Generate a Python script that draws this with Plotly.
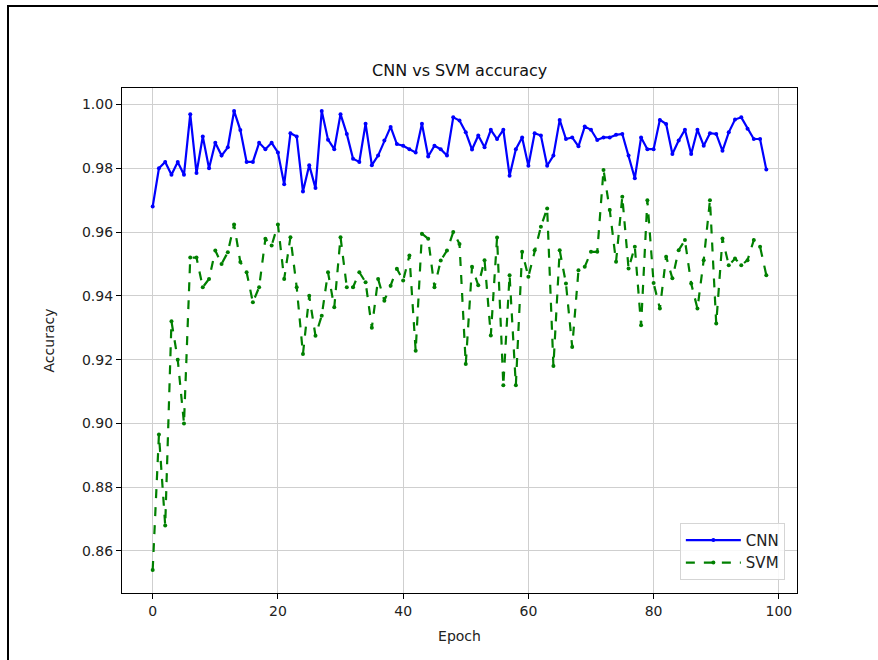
import plotly.graph_objects as go

epochs = list(range(99))

cnn_acc = [
    0.968, 0.980, 0.982, 0.978, 0.982, 0.978, 0.997, 0.9785, 0.990, 0.980,
    0.988, 0.984, 0.9866, 0.998, 0.992, 0.982, 0.982, 0.988, 0.986, 0.988,
    0.985, 0.975, 0.991, 0.990, 0.9727, 0.981, 0.9738, 0.998, 0.989, 0.986,
    0.997, 0.9908, 0.983, 0.982, 0.994, 0.981, 0.984, 0.9887, 0.993, 0.9876,
    0.9871, 0.986, 0.985, 0.994, 0.9837, 0.9871, 0.986, 0.984, 0.996, 0.995,
    0.9913, 0.9859, 0.9903, 0.9866, 0.9921, 0.9892, 0.9921, 0.9777, 0.986, 0.9897,
    0.9808, 0.991, 0.9903, 0.9808, 0.984, 0.9952, 0.9892, 0.9897, 0.9869, 0.9931,
    0.9921, 0.9889, 0.9897, 0.9897, 0.9905, 0.9908, 0.984, 0.9769, 0.9897, 0.986,
    0.986, 0.9952, 0.9939, 0.9845, 0.9887, 0.9921, 0.9845, 0.9921, 0.9871, 0.991,
    0.9908, 0.9855, 0.9913, 0.9953, 0.996, 0.9924, 0.9892, 0.9892, 0.9796,
]

svm_acc = [
    0.854, 0.8965, 0.868, 0.932, 0.920, 0.900, 0.952, 0.952, 0.9427, 0.9453,
    0.9542, 0.950, 0.9537, 0.9624, 0.9506, 0.9474, 0.938, 0.9427, 0.9579, 0.9558,
    0.9624, 0.9453, 0.9584, 0.9427, 0.9218, 0.940, 0.9275, 0.9338, 0.9474, 0.9364,
    0.9584, 0.9427, 0.9427, 0.9474, 0.9443, 0.930, 0.9453, 0.9385, 0.9432, 0.9485,
    0.9448, 0.9527, 0.9228, 0.9595, 0.9579, 0.9427, 0.9511, 0.9542, 0.960, 0.9563,
    0.9186, 0.9491, 0.9433, 0.9512, 0.9276, 0.9583, 0.912, 0.9465, 0.912, 0.9538,
    0.946, 0.9543, 0.9617, 0.9674, 0.918, 0.9543, 0.9439, 0.924, 0.948, 0.9491,
    0.9538, 0.9538, 0.9795, 0.9669, 0.9507, 0.9711, 0.9486, 0.9554, 0.9308, 0.970,
    0.944, 0.936, 0.9523, 0.9455, 0.9543, 0.9575, 0.9439, 0.936, 0.9512, 0.970,
    0.9313, 0.958, 0.9496, 0.9517, 0.9496, 0.9512, 0.9575, 0.9554, 0.9465,
]

x_ticks = [0, 20, 40, 60, 80, 100]
y_ticks = [0.86, 0.88, 0.90, 0.92, 0.94, 0.96, 0.98, 1.00]

FONT = "DejaVu Sans"

fig = go.Figure()
fig.add_trace(go.Scatter(
    x=epochs, y=cnn_acc, name="CNN", mode="lines+markers",
    line=dict(color="#0000ff", width=2.2),
    marker=dict(color="#0000ff", size=4),
))
fig.add_trace(go.Scatter(
    x=epochs, y=svm_acc, name="SVM", mode="lines+markers",
    line=dict(color="#008000", width=2.2, dash="dash"),
    marker=dict(color="#008000", size=4),
))

axis_common = dict(
    showline=True, linecolor="black", linewidth=1.2, mirror=True,
    ticks="outside", ticklen=5, tickcolor="black", tickwidth=1,
    showgrid=True, gridcolor="#cfcfcf", gridwidth=1, zeroline=False,
    tickfont=dict(family=FONT, size=14, color="#222"),
)

fig.update_layout(
    width=878, height=660,
    margin=dict(l=122, r=81, t=88, b=67),
    paper_bgcolor="white", plot_bgcolor="white",
    title=dict(text="CNN vs SVM accuracy", x=0.5235, xanchor="center",
               y=0.893, yanchor="middle",
               font=dict(family=FONT, size=16, color="#111")),
    xaxis=dict(range=[-4.9, 102.9], tickvals=x_ticks,
               title=dict(text="Epoch", font=dict(family=FONT, size=14, color="#222"), standoff=13),
               **axis_common),
    yaxis=dict(range=[0.8468, 1.0052], tickvals=y_ticks, tickformat=".2f",
               title=dict(text="Accuracy", font=dict(family=FONT, size=14, color="#222"), standoff=24),
               **axis_common),
    legend=dict(x=0.982, y=0.026, xanchor="right", yanchor="bottom",
                bgcolor="rgba(255,255,255,0.85)", bordercolor="#d5d5d5", borderwidth=1,
                font=dict(family=FONT, size=15, color="#222"),
                itemwidth=55, tracegroupgap=2),
    showlegend=True,
)

# outer page frame (as in the scanned reference)
fig.add_shape(type="rect", xref="paper", yref="paper",
              x0=(8 - 122) / 675, x1=(884 - 122) / 675,
              y0=(593 - 666) / 505, y1=(593 - 6) / 505,
              line=dict(color="black", width=2), fillcolor="rgba(0,0,0,0)", layer="below")

fig.write_html("out.html")
